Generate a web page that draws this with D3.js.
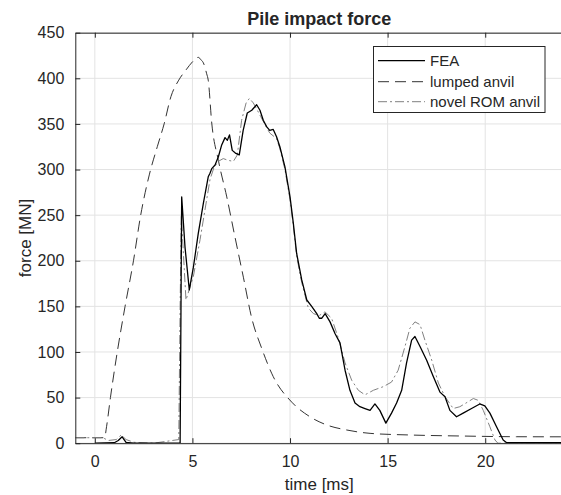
<!DOCTYPE html>
<html><head><meta charset="utf-8">
<script src="https://cdn.jsdelivr.net/npm/d3@7"></script>
<style>body{margin:0;background:#fff}svg{display:block}text{font-family:"Liberation Sans",Arial,Helvetica,sans-serif;fill:#262626}</style>
</head><body><svg id="c" width="561" height="495"></svg>
<script>
const title = "Pile impact force";
const xLabel = "time [ms]";
const yLabel = "force [MN]";
const xTicks = [0,5,10,15,20];
const yTicks = [0,50,100,150,200,250,300,350,400,450];
const seriesNames = ["FEA","lumped anvil","novel ROM anvil"];

const feaT = [0,1.0,1.2,1.4,1.6,2.0,4.3,4.37,4.45,4.62,4.84,5.05,5.3,5.56,5.81,5.9,5.99,6.16,6.33,6.5,6.67,6.79,6.9,7.04,7.2,7.4,7.6,7.81,8.04,8.29,8.46,8.63,8.8,8.96,9.14,9.31,9.48,9.74,10.0,10.17,10.34,10.6,10.86,11.11,11.37,11.5,11.63,11.8,12.05,12.31,12.56,12.82,13.07,13.33,13.58,13.84,14.1,14.35,14.6,14.91,15.2,15.46,15.72,15.97,16.23,16.4,16.66,17.0,17.34,17.68,17.94,18.19,18.53,18.87,19.3,19.72,19.98,20.24,20.58,20.92,21.1,24];
const feaF = [0,0.5,3,7,1,0,0,0,270,215,168,193,230,263,292,296,301,305,314,327,335,332,338,321,318,316,343,362,365,371,365,354,347,343,344,336,325,303,270,241,208,179,157,150,142,137,137,142,133,120,110,80,58,44,40,38,36,43,36,22,33,44,58,88,113,117,106,91,73,56,51,36,29,33,38,43,41,33,18,3.5,0.5,0.5];

const lumpT = [-1,0.5,0.6,0.8,1.15,1.55,1.98,2.35,2.8,3.2,3.55,3.9,4.3,4.7,5.0,5.3,5.45,5.56,5.73,5.81,5.99,6.33,6.76,7.18,7.61,8.04,8.55,9.14,10.09,11.02,11.88,12.9,14.1,16.14,18.7,21.6,24];
const lumpF = [6,6,18,50,100,150,200,250,295,325,350,380,398,410,418,423,420,417,405,398,351,310,270,226,182,137,104,73,45,29,20,14.5,10.8,9,7.9,7.1,7];

const romT = [-1,0.4,0.7,1.1,1.35,1.6,2.0,3.0,4.3,4.37,4.43,4.67,5.05,5.39,5.73,5.9,6.1,6.33,6.58,6.84,7.1,7.3,7.52,7.75,7.92,8.12,8.3,8.5,8.7,8.96,9.31,9.48,9.74,10.0,10.17,10.34,10.6,10.94,11.2,11.5,11.79,12.13,12.48,12.82,13.16,13.5,13.84,14.27,14.78,15.2,15.54,15.89,16.14,16.4,16.66,16.91,17.26,17.6,17.94,18.36,18.7,19.13,19.39,19.64,19.9,20.24,20.5,20.65,24];
const romF = [6,6,3,4,9,4,1,0,4,150,250,157,183,223,267,289,302,309,312,310,309,316,354,373,378,373,366,358,350,340,334,323,300,267,238,205,176,148,142,140,144,137,115,88,69,58,53,58,62,67,80,106,126,133,130,113,91,66,51,38,40,45.5,49,47,36,18,3.5,0,0];

const W=561,H=495;
const svg=d3.select("#c");
svg.append("rect").attr("width",W).attr("height",H).attr("fill","#fff");
const L=75.3,R=563.3,T=32.7,B=443.2;
const x=d3.scaleLinear().domain([-1,24]).range([L,R]);
const y=d3.scaleLinear().domain([0,450]).range([B,T]);

const defs=svg.append("defs");
defs.append("clipPath").attr("id","pc").append("rect").attr("x",L).attr("y",T).attr("width",R-L).attr("height",B-T);

// grid
const g=svg.append("g");
g.selectAll(".gx").data(xTicks).join("line").attr("x1",d=>x(d)).attr("x2",d=>x(d)).attr("y1",T).attr("y2",B).attr("stroke","#e3e3e3").attr("stroke-width",1);
g.selectAll(".gy").data(yTicks).join("line").attr("x1",L).attr("x2",R).attr("y1",d=>y(d)).attr("y2",d=>y(d)).attr("stroke","#e3e3e3").attr("stroke-width",1);

// lines
const pts=(ts,fs)=>ts.map((t,i)=>[t,fs[i]]);
const line=d3.line().x(d=>x(d[0])).y(d=>y(d[1]));
const plot=svg.append("g").attr("clip-path","url(#pc)");
plot.append("path").attr("d",line.curve(d3.curveMonotoneX)(pts(lumpT,lumpF))).attr("fill","none").attr("stroke","#333").attr("stroke-width",1).attr("stroke-dasharray","11,6");
line.curve(d3.curveLinear);
plot.append("path").attr("d",line(pts(romT,romF))).attr("fill","none").attr("stroke","#808080").attr("stroke-width",1).attr("stroke-dasharray","9,3,2,3");
plot.append("path").attr("d",line(pts(feaT,feaF))).attr("fill","none").attr("stroke","#000").attr("stroke-width",1.3).attr("stroke-linejoin","round");

// axes
const xa=svg.append("g").attr("transform",`translate(0,${B})`).call(d3.axisBottom(x).tickValues(xTicks).tickSizeInner(-5).tickSizeOuter(0).tickPadding(12));
const xt=svg.append("g").attr("transform",`translate(0,${T})`).call(d3.axisTop(x).tickValues(xTicks).tickSizeInner(-5).tickSizeOuter(0).tickFormat(""));
const ya=svg.append("g").attr("transform",`translate(${L},0)`).call(d3.axisLeft(y).tickValues(yTicks).tickSizeInner(-5).tickSizeOuter(0).tickPadding(11));
[xa,xt,ya].forEach(a=>{a.select(".domain").attr("stroke","#262626");a.selectAll(".tick line").attr("stroke","#262626");a.selectAll("text").attr("font-size",16).attr("fill","#262626").attr("font-family","Liberation Sans, Arial, sans-serif");});

svg.append("text").attr("x",(L+R)/2).attr("y",25).attr("text-anchor","middle").attr("font-size",18).attr("font-weight","bold").attr("fill","#000").text(title);
svg.append("text").attr("x",(L+R)/2).attr("y",490).attr("text-anchor","middle").attr("font-size",17).text(xLabel);
svg.append("text").attr("transform",`translate(31,${(T+B)/2}) rotate(-90)`).attr("text-anchor","middle").attr("font-size",17).text(yLabel);

// legend
const lg=svg.append("g");
lg.append("rect").attr("x",373.5).attr("y",46.5).attr("width",171.5).attr("height",66).attr("fill","#fff").attr("stroke","#262626").attr("stroke-width",1);
const styles=[{c:"#000",w:1.3,d:null},{c:"#333",w:1,d:"11,6"},{c:"#808080",w:1,d:"9,3,2,3"}];
const ly=[60.7,81.7,101.7];
seriesNames.forEach((n,i)=>{
  const l=lg.append("line").attr("x1",378).attr("x2",425).attr("y1",ly[i]).attr("y2",ly[i]).attr("stroke",styles[i].c).attr("stroke-width",styles[i].w);
  if(styles[i].d) l.attr("stroke-dasharray",styles[i].d);
  lg.append("text").attr("x",430).attr("y",ly[i]+5.3).attr("font-size",15).attr("fill","#000").text(n);
});
</script></body></html>
